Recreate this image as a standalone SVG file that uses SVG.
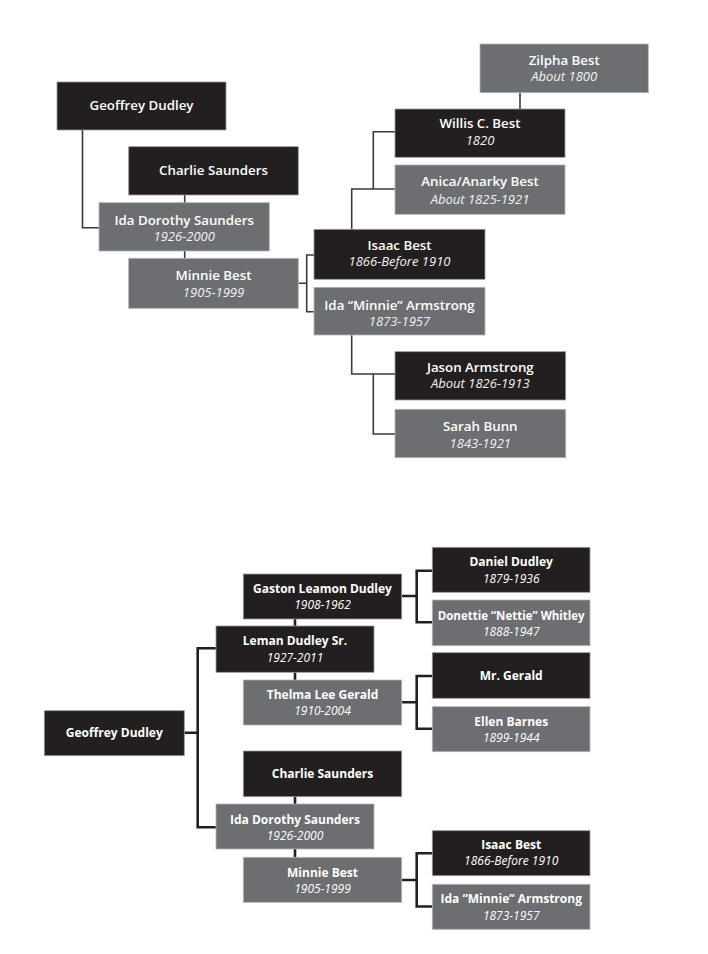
<svg xmlns="http://www.w3.org/2000/svg" width="708" height="954" viewBox="0 0 708 954">
<style>
.dk{fill:#231f20;stroke:#9a9a9a;stroke-width:0.8}
.gr{fill:#6d6e71;stroke:#b4b4b4;stroke-width:0.8}
text{font-family:"Source Sans Pro","Open Sans","Noto Sans",sans-serif;fill:#ffffff;text-anchor:middle}
.t1{font-size:13.3px;font-weight:600}
.t2{font-size:13px;font-style:italic;fill:#f2f2f2}
.b1{font-size:12px;font-weight:700}
.b2{font-size:12px;font-style:italic}
.lt{fill:none;stroke:#3a3a3a;stroke-width:1.6}
.lb{fill:none;stroke:#231f20;stroke-width:2.6}
</style>
<rect width="708" height="954" fill="#ffffff"/>
<g id="connectors">
<path class="lt" d="M82.5,130 V227.7 H99"/>
<path class="lt" d="M184.7,195 V203 M184.7,251 V258.3"/>
<path class="lt" d="M298.3,283.3 H306.7 M314,255 H306.7 V311.7 H314"/>
<path class="lt" d="M520,92.7 V109"/>
<path class="lt" d="M395,131.7 H373.3 V189 M395,189 H351.7 V229.3"/>
<path class="lt" d="M351.7,335 V374 H395 M373.3,374 V434 H395"/>
<path class="lb" d="M184.3,732.7 H197.7 M216,648.3 H197.7 V827.3 H216"/>
<path class="lb" d="M295,619 V626 M295,672.3 V680 M295,796.7 V804 M295,849 V857.3"/>
<path class="lb" d="M401.7,596 H416.7 M432.3,570.7 H416.7 V622.3 H432.3"/>
<path class="lb" d="M401.7,702.3 H416.7 M432.3,676 H416.7 V728.7 H432.3"/>
<path class="lb" d="M401.7,880 H416.7 M432.3,853.3 H416.7 V906.5 H432.3"/>
</g>
<g id="t-geoffrey"><rect class="dk" x="57" y="82" width="169" height="48"/><text class="t1" x="141.5" y="110">Geoffrey Dudley</text></g>
<g id="t-charlie"><rect class="dk" x="128.7" y="146.7" width="169.6" height="48.3"/><text class="t1" x="213.5" y="174.5">Charlie Saunders</text></g>
<g id="t-ida"><rect class="gr" x="99" y="202.7" width="170.3" height="48.3"/><text class="t1" x="184.2" y="224.5">Ida Dorothy Saunders</text><text class="t2" x="184.2" y="241">1926-2000</text></g>
<g id="t-minnie"><rect class="gr" x="128.7" y="258.3" width="169.6" height="50"/><text class="t1" x="213.5" y="279.5">Minnie Best</text><text class="t2" x="213.5" y="297">1905-1999</text></g>
<g id="t-zilpha"><rect class="gr" x="480" y="44" width="168.3" height="48.7"/><text class="t1" x="564.2" y="64.5">Zilpha Best</text><text class="t2" x="564.2" y="81">About 1800</text></g>
<g id="t-willis"><rect class="dk" x="395" y="109" width="170" height="48.3"/><text class="t1" x="480" y="128">Willis C. Best</text><text class="t2" x="480" y="144.5">1820</text></g>
<g id="t-anica"><rect class="gr" x="395" y="165" width="170" height="49.3"/><text class="t1" x="480" y="186">Anica/Anarky Best</text><text class="t2" x="480" y="204">About 1825-1921</text></g>
<g id="t-isaac"><rect class="dk" x="314" y="229.3" width="171" height="50"/><text class="t1" x="399.5" y="249.5">Isaac Best</text><text class="t2" x="399.5" y="266">1866-Before 1910</text></g>
<g id="t-idaminnie"><rect class="gr" x="314" y="287.3" width="171" height="47.7"/><text class="t1" x="399.5" y="309.5">Ida “Minnie” Armstrong</text><text class="t2" x="399.5" y="326">1873-1957</text></g>
<g id="t-jason"><rect class="dk" x="395" y="351.7" width="170.7" height="48.3"/><text class="t1" x="480.3" y="371.5">Jason Armstrong</text><text class="t2" x="480.3" y="388">About 1826-1913</text></g>
<g id="t-sarah"><rect class="gr" x="395" y="409.3" width="170.7" height="48.4"/><text class="t1" x="480.3" y="431">Sarah Bunn</text><text class="t2" x="480.3" y="447.5">1843-1921</text></g>
<g id="b-geoffrey"><rect class="dk" x="44.3" y="710.7" width="140" height="45"/><text class="b1" x="114.3" y="737">Geoffrey Dudley</text></g>
<g id="b-gaston"><rect class="dk" x="243.3" y="574" width="158.4" height="45"/><text class="b1" x="322.5" y="593">Gaston Leamon Dudley</text><text class="b2" x="322.5" y="609.3">1908-1962</text></g>
<g id="b-leman"><rect class="dk" x="216" y="626" width="158" height="46.3"/><text class="b1" x="295" y="645.3">Leman Dudley Sr.</text><text class="b2" x="295" y="662">1927-2011</text></g>
<g id="b-thelma"><rect class="gr" x="243.3" y="680" width="158.4" height="45"/><text class="b1" x="322.5" y="698.5">Thelma Lee Gerald</text><text class="b2" x="322.5" y="715">1910-2004</text></g>
<g id="b-daniel"><rect class="dk" x="432.3" y="547.3" width="157.7" height="45"/><text class="b1" x="511.2" y="565.8">Daniel Dudley</text><text class="b2" x="511.2" y="582.5">1879-1936</text></g>
<g id="b-donettie"><rect class="gr" x="432.3" y="600" width="157.7" height="45.7"/><text class="b1" x="511.2" y="619.6" style="font-size:11.5px">Donettie “Nettie” Whitley</text><text class="b2" x="511.2" y="635.8">1888-1947</text></g>
<g id="b-gerald"><rect class="dk" x="432.3" y="652.7" width="157.7" height="45.6"/><text class="b1" x="511.2" y="680">Mr. Gerald</text></g>
<g id="b-ellen"><rect class="gr" x="432.3" y="706.7" width="157.7" height="45"/><text class="b1" x="511.2" y="725.6">Ellen Barnes</text><text class="b2" x="511.2" y="741.6">1899-1944</text></g>
<g id="b-charlie"><rect class="dk" x="243.3" y="751" width="158.4" height="45.7"/><text class="b1" x="322.5" y="777.5">Charlie Saunders</text></g>
<g id="b-ida"><rect class="gr" x="216" y="804" width="158" height="45"/><text class="b1" x="295" y="824">Ida Dorothy Saunders</text><text class="b2" x="295" y="840.2">1926-2000</text></g>
<g id="b-minnie"><rect class="gr" x="243.3" y="857.3" width="158.4" height="45"/><text class="b1" x="322.5" y="876.5">Minnie Best</text><text class="b2" x="322.5" y="893.3">1905-1999</text></g>
<g id="b-isaac"><rect class="dk" x="432.3" y="830.7" width="157.7" height="45"/><text class="b1" x="511.2" y="848.5">Isaac Best</text><text class="b2" x="511.2" y="865.3">1866-Before 1910</text></g>
<g id="b-idaminnie"><rect class="gr" x="432.3" y="884.3" width="157.7" height="45"/><text class="b1" x="511.2" y="903.3">Ida “Minnie” Armstrong</text><text class="b2" x="511.2" y="919.5">1873-1957</text></g>
</svg>
